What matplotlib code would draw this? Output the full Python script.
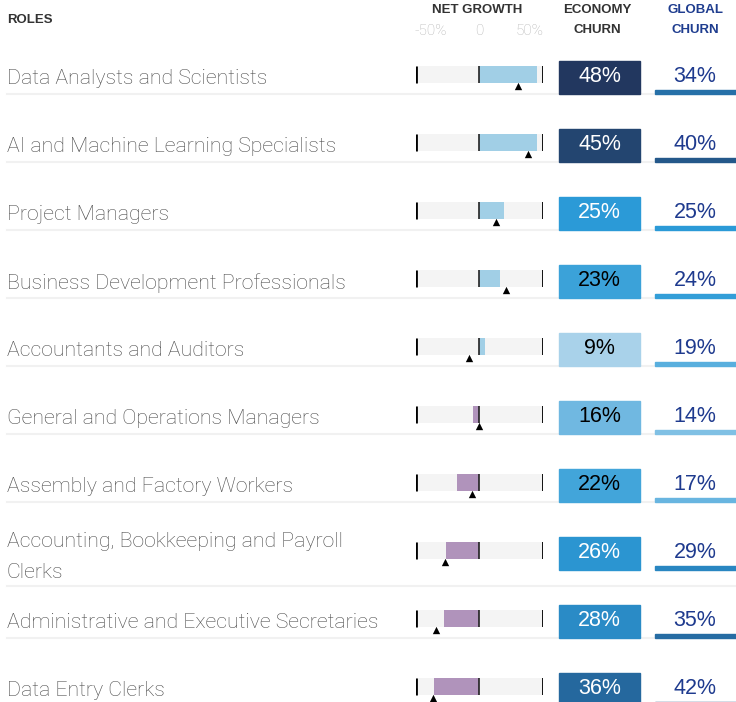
import numpy as np
import matplotlib
matplotlib.use("Agg")
import matplotlib.pyplot as plt
from matplotlib.patches import Rectangle
from matplotlib.colors import LinearSegmentedColormap, Normalize

# data
roles = [
    "Data Analysts and Scientists",
    "AI and Machine Learning Specialists",
    "Project Managers",
    "Business Development Professionals",
    "Accountants and Auditors",
    "General and Operations Managers",
    "Assembly and Factory Workers",
    "Accounting, Bookkeeping and Payroll\nClerks",
    "Administrative and Executive Secretaries",
    "Data Entry Clerks",
]
net_growth = [45, 45, 19, 16, 4, -5, -18, -26, -28, -36]
global_growth = [30, 38, 13, 21, -8, 0, -6, -27, -34, -37]
economy_churn = [48, 45, 25, 23, 9, 16, 22, 26, 28, 36]
global_churn = [34, 40, 25, 24, 19, 14, 17, 29, 35, 42]
growth_ticks = ["-50%", "0", "50%"]

# churn colour scale
churn_stops = [9, 16, 22, 25, 28, 36, 45, 48]
churn_colors = ["#a9d2ea", "#6fb8e1", "#42a5da", "#2b9ad7",
                "#2a8bc6", "#25689e", "#234571", "#22375f"]
norm = Normalize(min(churn_stops), max(churn_stops))
cmap = LinearSegmentedColormap.from_list(
    "churn", [(norm(v), c) for v, c in zip(churn_stops, churn_colors)])

W, H = 736, 702
fig = plt.figure(figsize=(W / 100, H / 100), dpi=100)
ax = fig.add_axes([0, 0, 1, 1])
ax.set_xlim(0, W)
ax.set_ylim(H, 0)
ax.axis("off")

# net growth axis: -50..50 mapped onto pixels 416..543
ng = fig.add_axes([416 / W, 0, 127 / W, 1])
ng.set_xlim(-50, 50)
ng.set_ylim(H, 0)
ng.axis("off")

label_font = dict(family="Roboto", weight="light")
num_font = dict(family="Liberation Sans")
head_font = dict(family="Liberation Sans", weight="bold", fontsize=9.5)

row_h = 68
y0 = 77.5
ys = y0 + row_h * np.arange(len(roles))

# headers
ax.text(7, 20, "ROLES", va="center", ha="left", color="#333333", **head_font)
ax.text(477, 10, "NET GROWTH", va="center", ha="center", color="#333333", **head_font)
for x, t in zip([431, 479, 530], growth_ticks):
    ax.text(x, 31, t, va="center", ha="center", color="#b5b5b5",
            fontsize=11, **label_font)
ax.text(597, 10, "ECONOMY", va="center", ha="center", color="#333333", **head_font)
ax.text(597, 30, "CHURN", va="center", ha="center", color="#333333", **head_font)
ax.text(695, 10, "GLOBAL", va="center", ha="center", color="#1f3d8f", **head_font)
ax.text(695, 30, "CHURN", va="center", ha="center", color="#1f3d8f", **head_font)

for i, y in enumerate(ys):
    # separator
    sep_y = y + 16.5 + (16 if "\n" in roles[i] else 0)
    ax.plot([7, W], [sep_y, sep_y], color="#f1f1f1", lw=1.5, zorder=0)

    # role label
    two = "\n" in roles[i]
    ax.text(7, y + (3.5 if two else 1.5), roles[i], va="center", ha="left",
            fontsize=15.3, color="#4a4a4a", linespacing=1.75, **label_font)

    # net growth track, bar, marker
    ty = y - 3
    ng.barh(ty, 100, left=-50, height=17, color="#f4f4f4", zorder=1)
    col = "#a1cfe6" if net_growth[i] >= 0 else "#b093bb"
    ng.barh(ty, net_growth[i], left=0, height=17, color=col, zorder=2)
    ng.vlines(-50, ty - 8.5, ty + 8.5, color="black", lw=2, zorder=3)
    ng.vlines(0, ty - 8.5, ty + 8.5, color="#222222", lw=1.2, zorder=3)
    ng.vlines(50, ty - 8.5, ty + 8.5, color="black", lw=1.3, zorder=3)
    ng.scatter(global_growth[i], ty + 11.5, marker="^", s=28,
               color="black", zorder=4, linewidths=0)

    # economy churn box
    ec = economy_churn[i]
    ax.add_patch(Rectangle((559, y - 16.5), 81, 33, color=cmap(norm(ec)), zorder=2))
    ax.text(599.5, y - 1, f"{ec}%", va="center", ha="center", fontsize=15.5,
            color="white" if ec >= 24 else "black", zorder=3, **num_font)

    # global churn value and underline
    gc = global_churn[i]
    ax.add_patch(Rectangle((655, y + 12.5), 81, 4, color=cmap(norm(gc)), zorder=2))
    ax.text(695, y - 1, f"{gc}%", va="center", ha="center", fontsize=15.5,
            color="#1e3a8e", zorder=3, **num_font)

fig.savefig("out.png", dpi=100)
